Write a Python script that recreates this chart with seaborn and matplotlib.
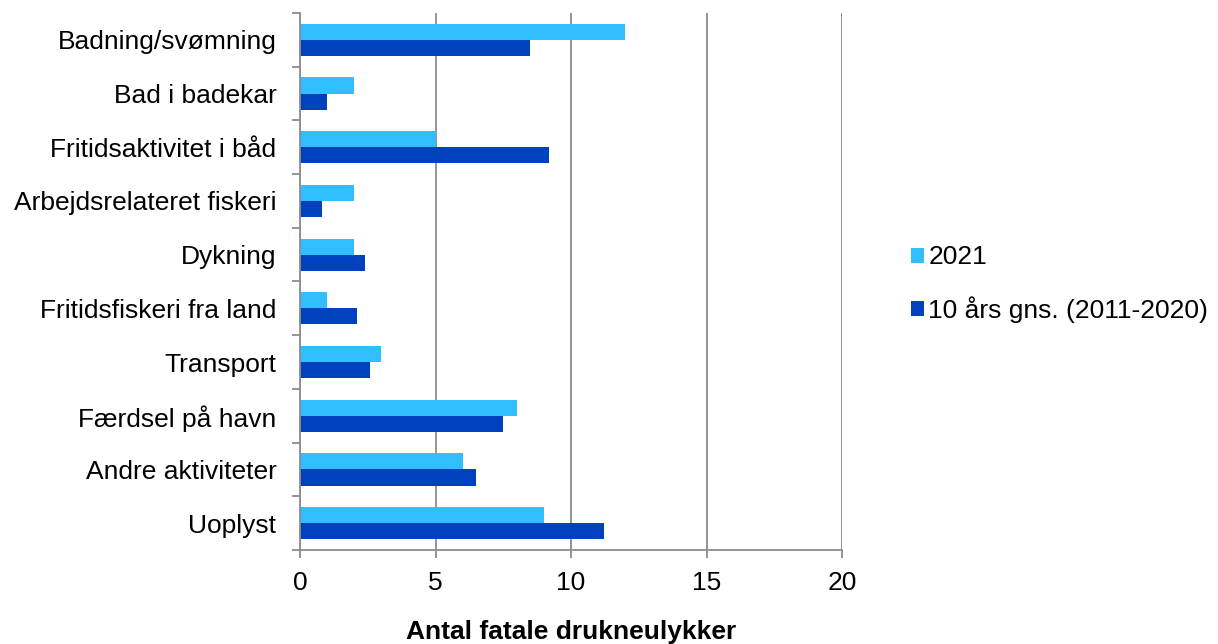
import matplotlib
matplotlib.use("Agg")
import matplotlib.pyplot as plt
import seaborn as sns
import pandas as pd
import numpy as np
from matplotlib.patches import Patch

categories = ["Badning/svømning", "Bad i badekar", "Fritidsaktivitet i båd",
              "Arbejdsrelateret fiskeri", "Dykning", "Fritidsfiskeri fra land",
              "Transport", "Færdsel på havn", "Andre aktiviteter", "Uoplyst"]
series_names = ["2021", "10 års gns. (2011-2020)"]
values_2021 = [12, 2, 5, 2, 2, 1, 3, 8, 6, 9]
values_avg = [8.5, 1.0, 9.2, 0.8, 2.4, 2.1, 2.6, 7.5, 6.5, 11.2]
x_ticks = [0, 5, 10, 15, 20]
x_label = "Antal fatale drukneulykker"
colors = ["#30BEFF", "#0041BE"]

df = pd.DataFrame({
    "Kategori": categories * 2,
    "Serie": [series_names[0]] * len(categories) + [series_names[1]] * len(categories),
    "Antal": values_2021 + values_avg,
})

sns.set_style("white")
plt.rcParams["font.family"] = ["Liberation Sans", "DejaVu Sans"]
plt.rcParams["text.color"] = "black"
plt.rcParams["xtick.color"] = "black"
plt.rcParams["ytick.color"] = "black"

grey = "#8c8c8c"
fig = plt.figure(figsize=(12.18, 6.44), dpi=100)
ax = fig.add_axes([300 / 1218, 1 - 550 / 644, (842 - 300) / 1218, (550 - 13) / 644])

sns.barplot(data=df, y="Kategori", x="Antal", hue="Serie", order=categories,
            hue_order=series_names, palette=colors, orient="h", width=0.6,
            saturation=1, ax=ax, legend=False, edgecolor="none")

ax.set_xlim(0, 20)
ax.set_ylim(len(categories) - 0.5, -0.5)
ax.set_xticks(x_ticks)
ax.set_xticklabels([str(t) for t in x_ticks], fontsize=19)
ax.xaxis.grid(True, color=grey, linewidth=1.3)
ax.set_axisbelow(True)

ax.set_yticks(range(len(categories)))
ax.set_yticklabels(categories, fontsize=19)
ax.set_yticks(np.arange(-0.5, len(categories), 1), minor=True)
ax.tick_params(axis="y", which="major", left=True, length=0, pad=17)
ax.tick_params(axis="y", which="minor", left=True, length=6, width=1.3, color=grey, direction="out")
ax.tick_params(axis="x", which="major", bottom=True, length=6, width=1.3, color=grey,
               direction="out", pad=9)

for s in ["top", "right"]:
    ax.spines[s].set_visible(False)
for s in ["left", "bottom"]:
    ax.spines[s].set_color(grey)
    ax.spines[s].set_linewidth(1.3)

ax.set_ylabel("")
ax.set_xlabel("")
fig.text(571 / 1218, 1 - 639 / 644, x_label, fontsize=19, fontweight="bold",
         ha="center", va="baseline")

handles = [Patch(facecolor=c, edgecolor="none") for c in colors]
fig.legend(handles, series_names, loc="center left", bbox_to_anchor=(911 / 1218, 1 - 284 / 644),
           frameon=False, fontsize=19, handlelength=0.5, handleheight=0.5,
           handletextpad=0.15, labelspacing=1.0, borderpad=0, borderaxespad=0)

fig.savefig("out.png", dpi=100)
